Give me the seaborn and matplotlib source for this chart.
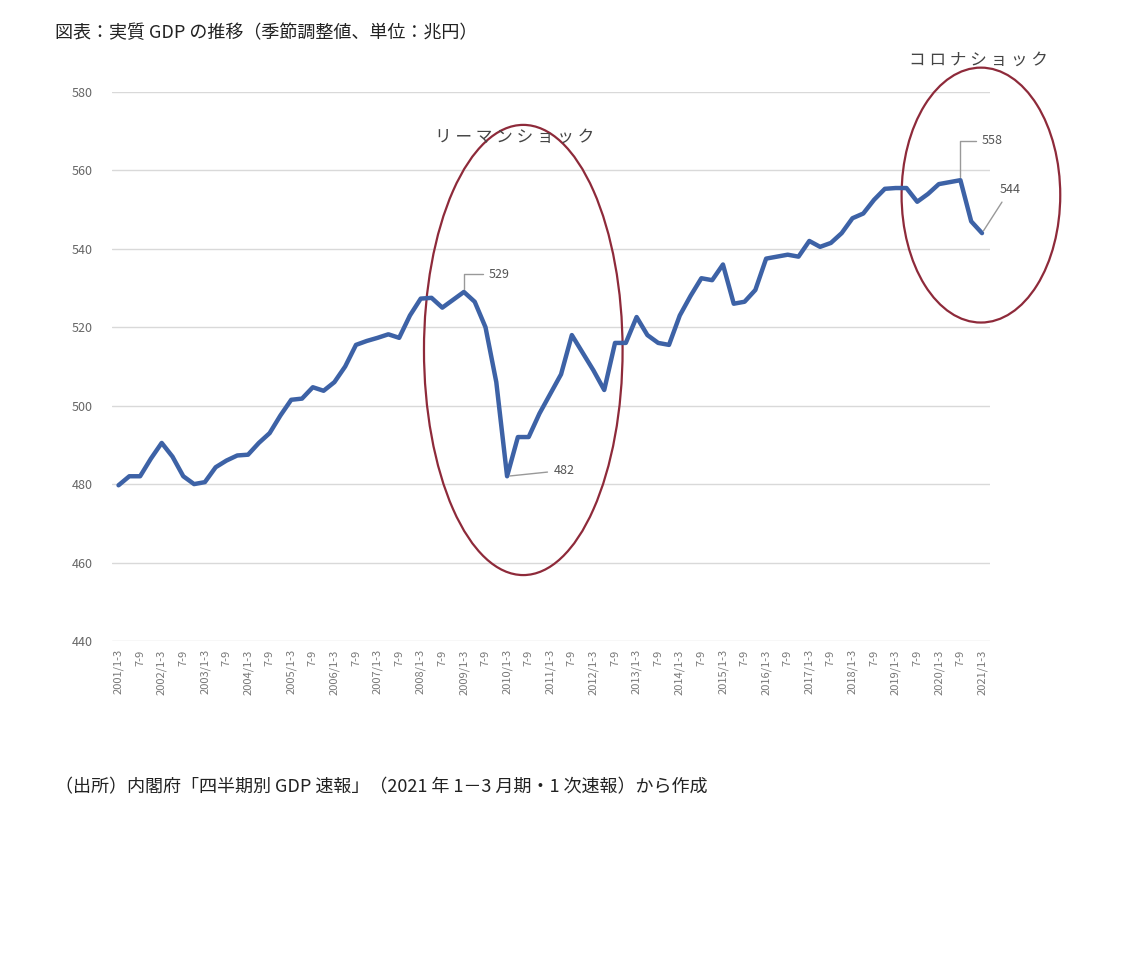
import numpy as np
import pandas as pd
import seaborn as sns
import matplotlib.pyplot as plt
from matplotlib.patches import Ellipse

gdp = [479.7, 482, 482, 486.5, 490.5, 487, 482, 480, 480.5, 484.3,
       486, 487.3, 487.5, 490.5, 493, 497.5, 501.5, 501.8, 504.7, 503.8,
       506, 510, 515.5, 516.5, 517.3, 518.2, 517.3, 523, 527.3, 527.5,
       525, 527, 529, 526.5, 520, 506, 482, 492, 492, 498,
       503, 508, 518, 513.5, 509, 504, 516, 516, 522.6, 518,
       516, 515.5, 523, 528, 532.5, 532, 536, 526, 526.5, 529.5,
       537.5, 538, 538.5, 538, 542, 540.5, 541.5, 544, 547.8, 549,
       552.5, 555.3, 555.5, 555.5, 552, 554, 556.5, 557, 557.5, 547,
       544]
years = list(range(2001, 2022))
quarters = ["1-3", "4-6", "7-9", "10-12"]
labels = [f"{y}/{q}" if q == "1-3" else q for y in years for q in quarters][:len(gdp)]
yticks = [440, 460, 480, 500, 520, 540, 560, 580]
callouts = [(32, "529"), (36, "482"), (78, "558"), (80, "544")]

df = pd.DataFrame({"q": np.arange(len(gdp)), "gdp": gdp})

sns.set_style("white")
plt.rcParams["font.family"] = ["Noto Sans CJK JP", "DejaVu Sans"]

fig = plt.figure(figsize=(11.25, 9.71), dpi=100)
ax = fig.add_axes([0.0996, 0.3399, 0.78, 0.5654])
sns.lineplot(data=df, x="q", y="gdp", ax=ax, color="#3D62A6", linewidth=3.2)

ax.set_ylim(440, 580)
ax.set_xlim(-0.6, len(gdp) - 0.3)
ax.set_yticks(yticks)
ax.set_yticklabels([str(v) for v in yticks], color="#666666", fontsize=9)
ax.yaxis.grid(True, color="#d9d9d9", linewidth=1)
ax.tick_params(axis="y", pad=14, length=0)
ax.set_xticks(df["q"][::2])
ax.set_xticklabels(labels[::2], rotation=90, fontsize=8, color="#777777")
ax.tick_params(axis="x", length=0, pad=6)
ax.set_xlabel("")
ax.set_ylabel("")
for s in ax.spines.values():
    s.set_visible(False)

# callout labels with leader lines
offs = {"529": (2.3, 4.5), "482": (4.3, 1.5), "558": (2.0, 10), "544": (1.6, 11)}
for q, txt in callouts:
    dx, dy = offs[txt]
    ax.annotate(txt, xy=(q, gdp[q]), xytext=(q + dx, gdp[q] + dy),
                fontsize=9, color="#555555", va="center",
                arrowprops=dict(arrowstyle="-", color="#999999", lw=1,
                                connectionstyle="angle,angleA=0,angleB=90,rad=0"
                                if txt in ("529", "558") else "arc3"))

ec = "#8E2A3A"
ax.add_patch(Ellipse((37.5, 514.2), 18.4, 114.8, fill=False, ec=ec, lw=1.6, clip_on=False))
ax.add_patch(Ellipse((79.9, 553.7), 14.7, 65, fill=False, ec=ec, lw=1.6, clip_on=False))
fig.text(515 / 1125, 1 - 137 / 971, "リ ー マ ン シ ョ ッ ク", ha="center", va="center",
         fontsize=12, color="#444444")
fig.text(978 / 1125, 1 - 60 / 971, "コ ロ ナ シ ョ ッ ク", ha="center", va="center",
         fontsize=12, color="#444444")

fig.text(55 / 1125, 1 - 33 / 971, "図表：実質 GDP の推移（季節調整値、単位：兆円）",
         ha="left", va="center", fontsize=13, color="#222222")
fig.text(55 / 1125, 1 - 787 / 971,
         "（出所）内閣府「四半期別 GDP 速報」（2021 年 1－3 月期・1 次速報）から作成",
         ha="left", va="center", fontsize=13, color="#222222")

fig.savefig("out.png", dpi=100)
